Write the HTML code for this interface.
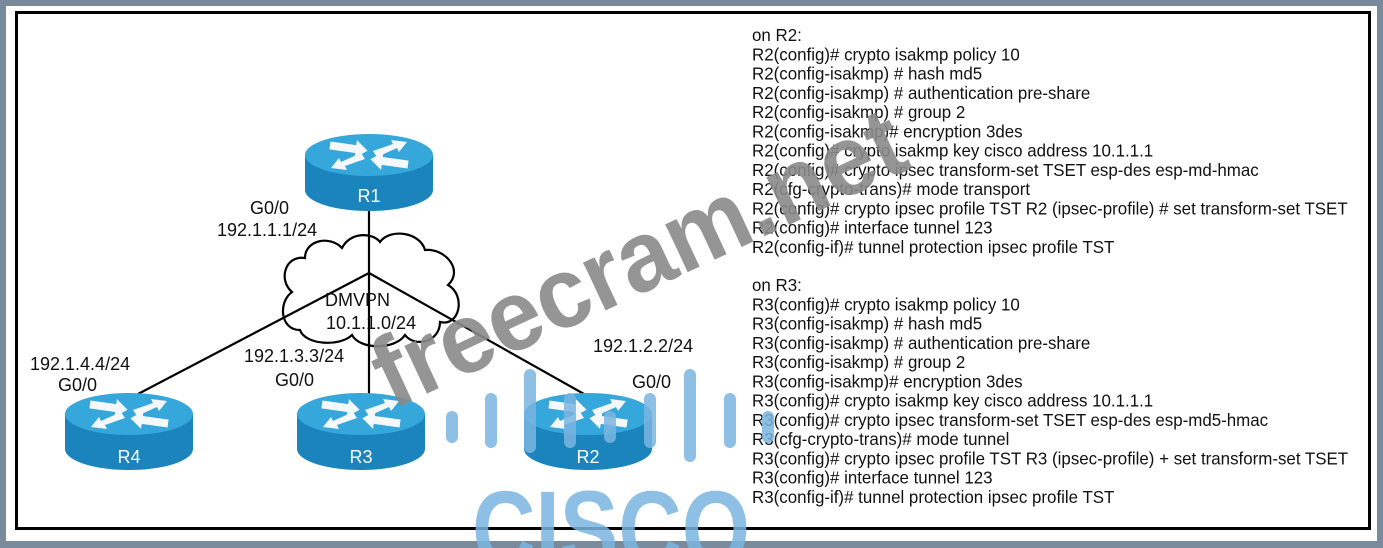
<!DOCTYPE html>
<html><head><meta charset="utf-8"><style>
html,body{margin:0;padding:0;background:#788a9c;overflow:hidden;width:1383px;height:548px;}
svg{display:block;}
</style></head><body>
<svg width="1383" height="548" viewBox="0 0 1383 548" xmlns="http://www.w3.org/2000/svg" font-family="'Liberation Sans', Arial, sans-serif">
<defs>
<clipPath id="cp"><rect x="0" y="0" width="1383" height="548"/></clipPath>
<g id="rt">
  <path d="M-64,0 L-64,35 A64,21 0 0 0 64,35 L64,0 Z" fill="#1b84bd"/>
  <ellipse cx="0" cy="0" rx="64" ry="21" fill="#36a7da"/>
  <g fill="#f4f8fb">
    <polygon points="-40,-8 -14,-8 -14,-13 -2,-4 -14,5 -14,0 -40,0" transform="rotate(8)"/>
    <polygon points="40,8 14,8 14,13 2,4 14,-5 14,0 40,0" transform="rotate(8)"/>
    <polygon points="4,-4 24,-11 22,-15 38,-13 30,-3 28,-7 8,2" />
    <polygon points="-4,4 -24,11 -22,15 -38,13 -30,3 -28,7 -8,-2" />
  </g>
</g>
</defs>
<rect x="6" y="6" width="1371" height="535" fill="#fff"/>
<rect x="16.5" y="12.5" width="1353" height="516" fill="none" stroke="#000" stroke-width="3"/>

<path d="M300,330 C280,330 278,302 292,292 C278,280 285,255 305,258 C305,240 330,235 342,248 C350,232 372,232 380,242 C390,228 420,232 425,250 C445,248 464,270 448,285 C466,295 460,327 440,322 C440,342 415,348 405,335 C395,350 360,350 352,335 C340,347 305,345 300,330 Z" fill="#fff" stroke="#000" stroke-width="2.2"/>

<g stroke="#000" stroke-width="2.2">
<line x1="369" y1="205" x2="369" y2="395"/>
<line x1="369" y1="273" x2="138" y2="394"/>
<line x1="369" y1="273" x2="584" y2="394"/>
</g>

<use href="#rt" x="369" y="155"/>
<use href="#rt" x="129" y="414"/>
<use href="#rt" x="361" y="414"/>
<use href="#rt" x="588" y="414"/>
<g fill="#fff" font-size="18" text-anchor="middle">
<text x="369" y="202">R1</text>
<text x="129" y="463">R4</text>
<text x="361" y="463">R3</text>
<text x="588" y="463">R2</text>
</g>

<g fill="#111" font-size="18">
<text x="250" y="214">G0/0</text>
<text x="217" y="236">192.1.1.1/24</text>
<text x="325" y="306">DMVPN</text>
<text x="326" y="329">10.1.1.0/24</text>
<text x="30" y="370">192.1.4.4/24</text>
<text x="58" y="391">G0/0</text>
<text x="244" y="362">192.1.3.3/24</text>
<text x="275" y="386">G0/0</text>
<text x="593" y="352">192.1.2.2/24</text>
<text x="632" y="388">G0/0</text>
</g>

<g fill="#111" font-size="18" transform="translate(752,0) scale(0.94,1)">
<text x="0" y="41">on R2:</text>
<text x="0" y="60.3">R2(config)# crypto isakmp policy 10</text>
<text x="0" y="79.5">R2(config-isakmp) # hash md5</text>
<text x="0" y="98.8">R2(config-isakmp) # authentication pre-share</text>
<text x="0" y="118">R2(config-isakmp) # group 2</text>
<text x="0" y="137.3">R2(config-isakmp)# encryption 3des</text>
<text x="0" y="156.6">R2(config)# crypto isakmp key cisco address 10.1.1.1</text>
<text x="0" y="175.9">R2(config)# crypto ipsec transform-set TSET esp-des esp-md-hmac</text>
<text x="0" y="195.1">R2(cfg-crypto-trans)# mode transport</text>
<text x="0" y="214.4">R2(config)# crypto ipsec profile TST R2 (ipsec-profile) # set transform-set TSET</text>
<text x="0" y="233.7">R2(config)# interface tunnel 123</text>
<text x="0" y="253">R2(config-if)# tunnel protection ipsec profile TST</text>
<text x="0" y="291">on R3:</text>
<text x="0" y="310.3">R3(config)# crypto isakmp policy 10</text>
<text x="0" y="329.5">R3(config-isakmp) # hash md5</text>
<text x="0" y="348.8">R3(config-isakmp) # authentication pre-share</text>
<text x="0" y="368">R3(config-isakmp) # group 2</text>
<text x="0" y="387.3">R3(config-isakmp)# encryption 3des</text>
<text x="0" y="406.6">R3(config)# crypto isakmp key cisco address 10.1.1.1</text>
<text x="0" y="425.9">R3(config)# crypto ipsec transform-set TSET esp-des esp-md5-hmac</text>
<text x="0" y="445.1">R3(cfg-crypto-trans)# mode tunnel</text>
<text x="0" y="464.4">R3(config)# crypto ipsec profile TST R3 (ipsec-profile) + set transform-set TSET</text>
<text x="0" y="483.7">R3(config)# interface tunnel 123</text>
<text x="0" y="503">R3(config-if)# tunnel protection ipsec profile TST</text>
</g>

<text x="0" y="0" transform="translate(392,410) rotate(-25)" font-size="100" font-weight="bold" fill="#8a8a8a" fill-opacity="0.9" textLength="575" lengthAdjust="spacingAndGlyphs">freecram.net</text>

<g stroke="#7ab5e0" stroke-opacity="0.85" stroke-width="12" stroke-linecap="round">
<line x1="452" y1="417" x2="452" y2="437"/>
<line x1="491" y1="399" x2="491" y2="442"/>
<line x1="530" y1="375" x2="530" y2="447"/>
<line x1="570" y1="399" x2="570" y2="442"/>
<line x1="610" y1="417" x2="610" y2="437"/>
<line x1="650" y1="399" x2="650" y2="442"/>
<line x1="690" y1="375" x2="690" y2="456"/>
<line x1="730" y1="399" x2="730" y2="442"/>
<line x1="768" y1="417" x2="768" y2="437"/>
</g>
<g clip-path="url(#cp)">
<text x="472" y="566" font-size="108" font-weight="bold" fill="#7ab5e0" fill-opacity="0.85" textLength="278" lengthAdjust="spacingAndGlyphs">CISCO</text>
</g>
</svg>
</body></html>
